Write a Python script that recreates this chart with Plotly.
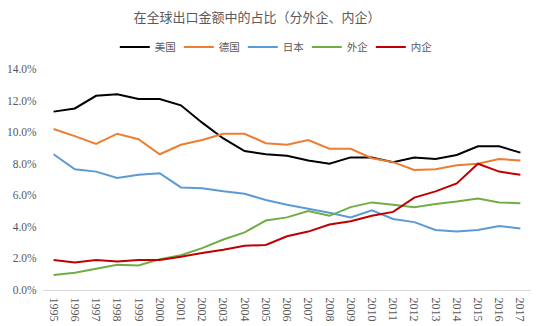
import plotly.graph_objects as go

years = [str(y) for y in range(1995, 2018)]
usa = [11.3, 11.5, 12.3, 12.4, 12.1, 12.1, 11.7, 10.6, 9.6, 8.8, 8.6, 8.5, 8.2, 8.0, 8.4, 8.4, 8.1, 8.4, 8.3, 8.55, 9.1, 9.1, 8.7]
germany = [10.2, 9.75, 9.25, 9.9, 9.55, 8.6, 9.2, 9.5, 9.9, 9.9, 9.3, 9.2, 9.5, 8.95, 8.95, 8.35, 8.1, 7.6, 7.65, 7.9, 8.0, 8.3, 8.2]
japan = [8.6, 7.65, 7.5, 7.1, 7.3, 7.4, 6.5, 6.45, 6.25, 6.1, 5.7, 5.4, 5.15, 4.9, 4.6, 5.05, 4.5, 4.3, 3.8, 3.7, 3.8, 4.05, 3.9]
foreign = [0.95, 1.1, 1.35, 1.6, 1.55, 1.95, 2.2, 2.65, 3.2, 3.65, 4.4, 4.6, 5.0, 4.7, 5.25, 5.55, 5.4, 5.25, 5.45, 5.6, 5.8, 5.55, 5.5]
domestic = [1.9, 1.75, 1.9, 1.8, 1.9, 1.9, 2.1, 2.35, 2.55, 2.8, 2.85, 3.4, 3.7, 4.15, 4.35, 4.7, 4.95, 5.85, 6.25, 6.75, 8.0, 7.5, 7.3]

series = [
    ("美国", usa, "#000000"),
    ("德国", germany, "#ED7D31"),
    ("日本", japan, "#5B9BD5"),
    ("外企", foreign, "#70AD47"),
    ("内企", domestic, "#C00000"),
]

fig = go.Figure()
for name, vals, color in series:
    fig.add_trace(go.Scatter(x=years, y=vals, name=name, mode="lines",
                             line=dict(color=color, width=2)))

fig.update_layout(
    width=554, height=326,
    margin=dict(l=43, r=23, t=69, b=36),
    paper_bgcolor="white", plot_bgcolor="white",
    font=dict(family="Noto Sans CJK SC, DejaVu Sans", color="#595959", size=11),
    title=dict(text="在全球出口金额中的占比（分外企、内企）", x=0.464, xanchor="center",
               y=0.945, yanchor="middle", font=dict(size=13, color="#595959")),
    legend=dict(orientation="h", x=0.475, xanchor="center", y=1.1, yanchor="middle",
                font=dict(size=10.5, color="#595959"), itemwidth=30,
                entrywidth=19, entrywidthmode="pixels",
                bgcolor="rgba(0,0,0,0)"),
    showlegend=True,
)
fig.update_xaxes(type="category", range=[-0.5, len(years) - 0.5], tickangle=90,
                 showgrid=False, showline=True, linecolor="#D9D9D9", linewidth=1,
                 ticks="outside", ticklen=4, tickcolor="rgba(0,0,0,0)", automargin=False,
                 tickfont=dict(family="Liberation Serif, DejaVu Serif", size=12, color="#595959"),
                 fixedrange=True)
fig.update_yaxes(range=[0, 14], dtick=2, tickformat=".1f", ticksuffix="%",
                 showgrid=False, zeroline=False, showline=False, automargin=False,
                 ticks="outside", ticklen=3, tickcolor="rgba(0,0,0,0)",
                 tickfont=dict(family="Liberation Serif, DejaVu Serif", size=11.5, color="#595959"),
                 fixedrange=True)

fig.write_html("out.html")
